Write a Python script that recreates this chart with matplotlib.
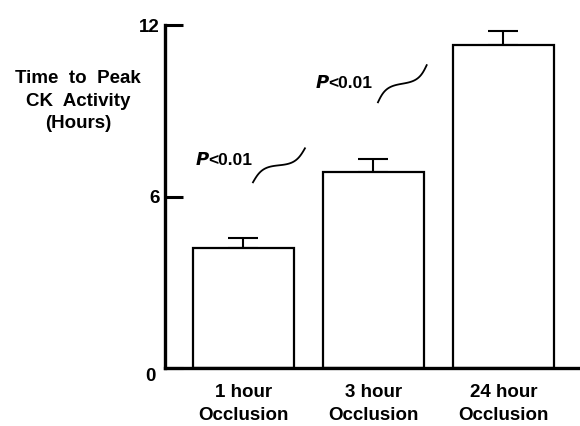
import numpy as np
import matplotlib.pyplot as plt
from matplotlib.transforms import IdentityTransform

groups = ['1 hour\nOcclusion', '3 hour\nOcclusion', '24 hour\nOcclusion']
means = [4.2, 6.85, 11.3]
errs = [0.35, 0.45, 0.5]
p_labels = ['<0.01', '<0.01']

plt.rcParams['font.family'] = ['Liberation Sans', 'DejaVu Sans']
plt.rcParams['font.weight'] = 'bold'

fig = plt.figure(figsize=(5.8, 4.26), dpi=100)
ax = fig.add_axes([0.2845, 0.136, 0.7155, 0.805])

x = np.arange(len(groups))
ax.bar(x, means, width=0.78, color='white', edgecolor='black', linewidth=1.6, zorder=2)
ax.errorbar(x, means, yerr=[np.zeros(3), errs], fmt='none', ecolor='black',
            elinewidth=1.5, capsize=11, capthick=1.5, zorder=1)

ax.set_xlim(-0.604, 2.59)
ax.set_ylim(0, 12)
for s in ['top', 'right']:
    ax.spines[s].set_visible(False)
for s in ['left', 'bottom']:
    ax.spines[s].set_linewidth(2.4)
ax.set_xticks([])
ax.set_yticks([0, 6, 12])
ax.set_yticklabels(['', '6', '12'], fontsize=13.5, fontweight='bold')
ax.tick_params(axis='y', direction='in', length=13, width=2.2, pad=4)
ax.text(-0.72, -0.3, '0', fontsize=13.5, fontweight='bold', ha='center', va='center')

for xi, g in zip(x, groups):
    top, bottom = g.split('\n')
    ax.text(xi, -0.87, top, fontsize=13.5, fontweight='bold', ha='center', va='center')
    ax.text(xi, -1.65, bottom, fontsize=13.5, fontweight='bold', ha='center', va='center')

fig.text(78 / 580, 1 - 101 / 426, 'Time  to  Peak\nCK  Activity\n(Hours)', fontsize=13.5,
         fontweight='bold', ha='center', va='center', linespacing=1.45)

# P value annotations with wavy connectors
p_pos = [(-0.373, 7.27), (0.55, 9.97)]
waves = [((0.073, 6.5), (0.473, 7.69)), ((1.035, 9.3), (1.41, 10.6))]
for (px, py), lab in zip(p_pos, p_labels):
    ax.text(px, py, '$\\mathbf{\\mathit{P}}$', fontsize=13, ha='left', va='center')
    ax.text(px + 0.105, py, lab, fontsize=12.5, fontweight='bold', ha='left', va='center')

fig.canvas.draw()
t = np.linspace(0, 1, 80)
for a, b in waves:
    p0 = ax.transData.transform(a)
    p1 = ax.transData.transform(b)
    d = p1 - p0
    n = np.array([-d[1], d[0]]) / np.hypot(*d)
    pts = p0[None, :] + t[:, None] * d[None, :] + (5 * np.sin(2 * np.pi * t))[:, None] * n[None, :]
    ax.plot(pts[:, 0], pts[:, 1], color='black', lw=1.3, transform=IdentityTransform(), clip_on=False)

fig.savefig('out.png', dpi=100)
